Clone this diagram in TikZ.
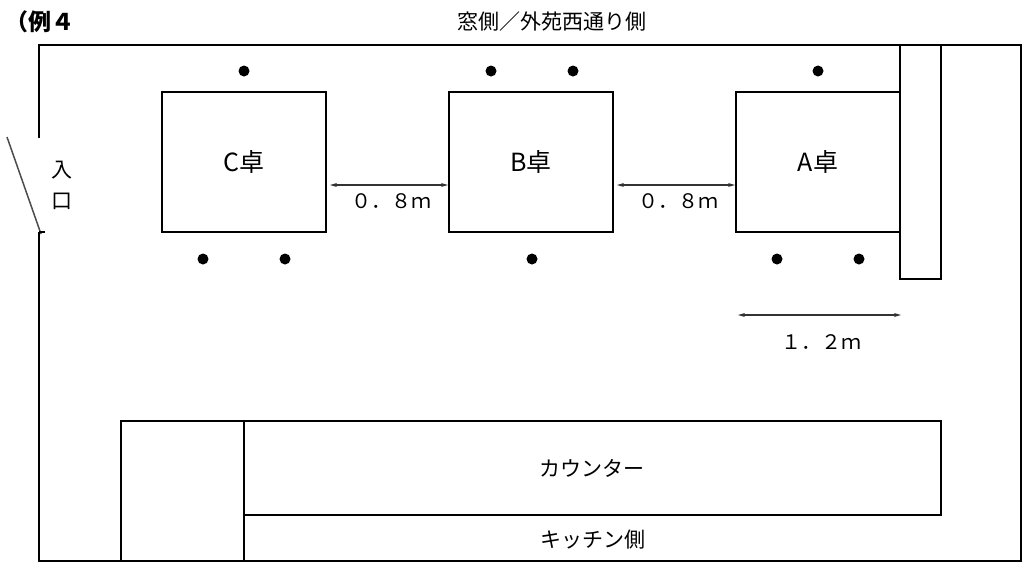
\documentclass[tikz,border=0pt]{standalone}
\usepackage{fontspec}
\setmainfont{Noto Sans CJK JP}
\usetikzlibrary{arrows.meta}
\begin{document}
\begin{tikzpicture}[x=1pt,y=-1pt,
  wall/.style={line width=2pt,draw=black},
  tablebox/.style={line width=2pt,draw=black},
  seat/.style={circle,fill=black,inner sep=0pt,minimum size=11pt},
  dim/.style={line width=1.2pt,draw=black!80,{Stealth[length=7pt,width=4pt]}-{Stealth[length=7pt,width=4pt]}},
  lbl/.style={font=\fontsize{21}{24}\selectfont,inner sep=0pt},
  dlbl/.style={font=\fontsize{20}{24}\selectfont,inner sep=0pt},
  tlbl/.style={font=\fontsize{25}{28}\selectfont,inner sep=0pt}]
\useasboundingbox (0,0) rectangle (1027,566);
% room walls
\draw[wall] (39,138) -- (39,45) -- (1021,45) -- (1021,561) -- (39,561) -- (39,232);
% door
\draw[line width=1.5pt,black!70] (7,137) -- (41,234);
\draw[line width=1.5pt] (39,232) -- (45,232);
% entrance label
\node[lbl] (iri) at (62,170) {入};
\node[lbl] (kuchi) at (62,201) {口};
% title
\node[font=\bfseries\fontsize{23}{26}\selectfont,inner sep=0pt,anchor=west] (title) at (5,22) {（例４};
\node[lbl] (window) at (552,22) {窓側／外苑西通り側};
% tables
\node[tablebox,minimum width=164pt,minimum height=140pt] (C) at (244,162) {};
\node[tablebox,minimum width=164pt,minimum height=140pt] (B) at (531,162) {};
\node[tablebox,minimum width=164pt,minimum height=140pt] (A) at (818,162) {};
\node[tlbl] at (C.center) {C卓};
\node[tlbl] at (B.center) {B卓};
\node[tlbl] at (A.center) {A卓};
% wall strip
\draw[wall] (900,45) rectangle (941,279);
% seats
\node[seat] (c1) at (244,71) {};
\node[seat] (c2) at (203,259) {};
\node[seat] (c3) at (285,259) {};
\node[seat] (b1) at (491,71) {};
\node[seat] (b2) at (573,71) {};
\node[seat] (b3) at (532,259) {};
\node[seat] (a1) at (818,71) {};
\node[seat] (a2) at (777,259) {};
\node[seat] (a3) at (859,259) {};
% dimensions
\coordinate (d1s) at (330,185);
\coordinate (d1e) at (448,185);
\coordinate (d2s) at (617,185);
\coordinate (d2e) at (735,185);
\coordinate (d3s) at (738,315);
\coordinate (d3e) at (901,315);
\draw[dim] (d1s) -- (d1e);
\draw[dim] (d2s) -- (d2e);
\draw[dim] (d3s) -- (d3e);
\node[dlbl] (m1) at (391,201) {０．８ｍ};
\node[dlbl] (m2) at (678,201) {０．８ｍ};
\node[dlbl] (m3) at (821,342) {１．２ｍ};
% counter
\draw[wall] (121,561) -- (121,421) -- (941,421) -- (941,515) -- (244,515);
\draw[wall] (244,421) -- (244,561);
\node[lbl] (counter) at (592,468) {カウンター};
\node[lbl] (kitchen) at (593,540) {キッチン側};
\end{tikzpicture}
\end{document}
